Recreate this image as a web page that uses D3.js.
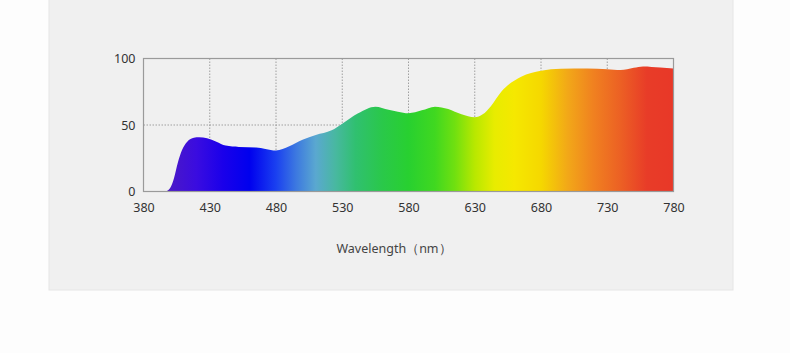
<!DOCTYPE html>
<html><head><meta charset="utf-8">
<script src="https://cdn.jsdelivr.net/npm/d3@7"></script>
<style>
html,body{margin:0;padding:0;background:#fdfdfd;}
svg{display:block;font-family:"Noto Sans","Open Sans",sans-serif;}
</style></head>
<body><svg id="c" width="790" height="353"></svg>
<script>
// data
const wavelengths = [380,396,400,403,406,409,413,418,422,428,435,442,452,465,472,480,490,500,510,522,530,542,555,565,572,580,590,600,610,620,630,636,642,650,665,680,695,715,730,740,750,757,770,780];
const intensity   = [0,  0,  2.5,10, 22, 31, 37.5,40.5,40.8,40,37.5,34.5,33.5,33,32,30.8,34,39,42.5,46,51,58.8,63.8,61.5,60,58.8,61,63.8,62,58,55.8,58,64,75,86.3,90.8,92.3,92.5,92,91.3,93,94,93.2,92.5];
const xTicks = [380,430,480,530,580,630,680,730,780];
const yTicks = [0,50,100];
const colorStops = [380,400,420,440,460,480,495,510,525,540,560,580,600,615,630,645,660,680,700,720,740,760,780];
const stopColors = ["#5a20c0","#4a18c8","#3a0ce0","#1a00ea","#0000ee","#1a40f0","#3c78e0","#5aa8d0","#48b8a0","#30c070","#2ac84a","#28d030","#40d820","#70e010","#b8e800","#e8ec00","#f5e800","#f5d800","#f2a818","#f08020","#ec6024","#e83c28","#e83828"];
const xLabel = "Wavelength（nm）";

const svg = d3.select("#c");
// panel
svg.append("rect").attr("x",49).attr("y",-1).attr("width",684).attr("height",291)
  .attr("fill","#f0f0f0").attr("stroke","#e6e6e6");

const x = d3.scaleLinear().domain([380,780]).range([143.5,673.5]);
const y = d3.scaleLinear().domain([0,100]).range([191.5,58.5]);

const defs = svg.append("defs");
const grad = defs.append("linearGradient").attr("id","spec")
  .attr("gradientUnits","userSpaceOnUse")
  .attr("x1",x(380)).attr("x2",x(780)).attr("y1",0).attr("y2",0);
colorStops.forEach((w,i)=>{
  grad.append("stop").attr("offset",(w-380)/400).attr("stop-color",stopColors[i]);
});

// grid
const g = svg.append("g");
g.selectAll(".vg").data(xTicks.slice(1,-1)).join("line")
  .attr("x1",d=>x(d)).attr("x2",d=>x(d)).attr("y1",y(100)).attr("y2",y(0))
  .attr("stroke","#8c8c8c").attr("stroke-width",0.8).attr("stroke-dasharray","1.5,1.5");
g.selectAll(".hg").data([50]).join("line")
  .attr("x1",x(380)).attr("x2",x(780)).attr("y1",d=>y(d)).attr("y2",d=>y(d))
  .attr("stroke","#8c8c8c").attr("stroke-width",0.8).attr("stroke-dasharray","1.5,1.5");

// area
const pts = wavelengths.map((w,i)=>[w,intensity[i]]);
const area = d3.area().x(d=>x(d[0])).y0(y(0)).y1(d=>y(d[1])).curve(d3.curveMonotoneX);
svg.append("path").datum(pts).attr("d",area).attr("fill","url(#spec)");

// frame
svg.append("rect").attr("x",x(380)).attr("y",y(100)).attr("width",x(780)-x(380)).attr("height",y(0)-y(100))
  .attr("fill","none").attr("stroke","#9a9a9a").attr("stroke-width",1.2);

// axes labels
const xa = d3.axisBottom(x).tickValues(xTicks).tickSize(0).tickPadding(12).tickFormat(d3.format("d"));
const xg = svg.append("g").attr("transform",`translate(0,${y(0)})`).call(xa);
xg.select(".domain").remove();
xg.selectAll("text").attr("font-size",12.5).attr("fill","#333").attr("font-family","'Noto Sans',sans-serif");
const ya = d3.axisLeft(y).tickValues(yTicks).tickSize(0).tickPadding(8);
const yg = svg.append("g").attr("transform",`translate(${x(380)},0)`).call(ya);
yg.select(".domain").remove();
yg.selectAll("text").attr("font-size",12.5).attr("fill","#333").attr("font-family","'Noto Sans',sans-serif");

svg.append("text").attr("x",394).attr("y",253).attr("text-anchor","middle")
  .attr("font-size",12.5).attr("fill","#444").text(xLabel);
</script></body></html>
